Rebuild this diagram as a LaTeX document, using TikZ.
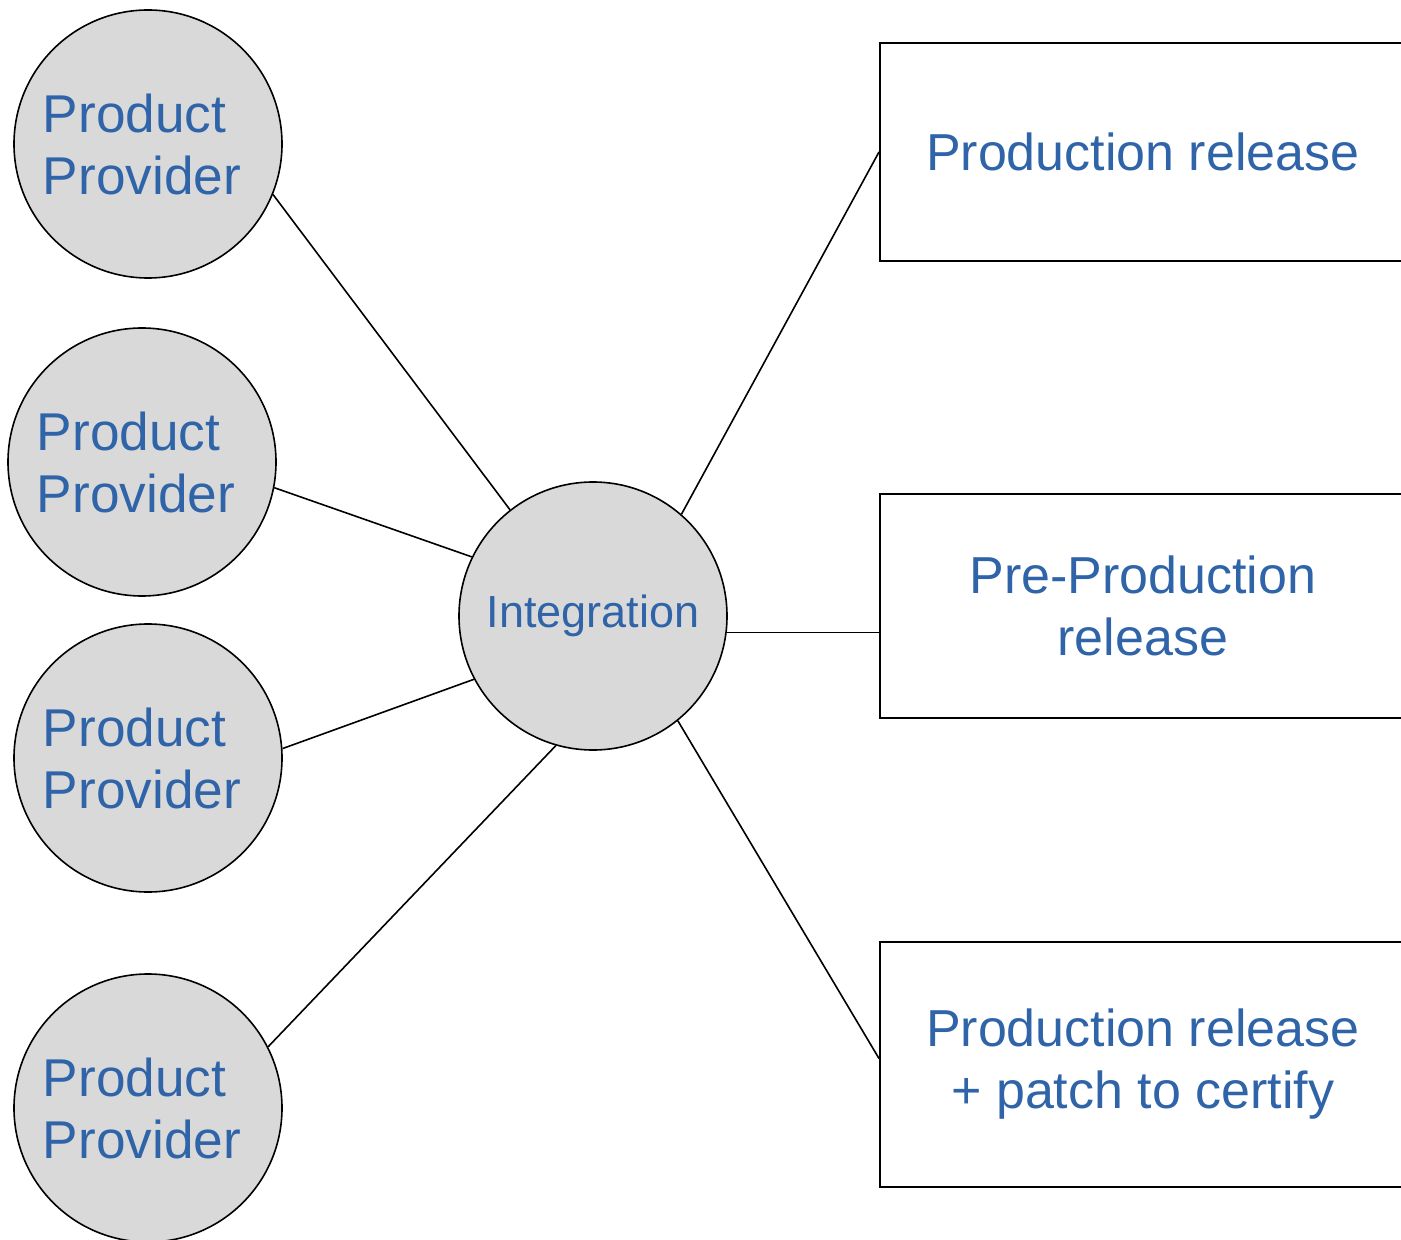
\documentclass[tikz,border=0pt]{standalone}
\usepackage{fontspec}
\setmainfont{Liberation Sans}
\definecolor{txtblue}{RGB}{48,100,168}
\definecolor{discgray}{RGB}{217,217,217}

\begin{document}
\begin{tikzpicture}[x=0.5pt, y=-0.5pt,
    provider/.style={circle, draw, line width=0.8pt, fill=discgray, minimum size=134pt,
      inner sep=0pt, align=left, text=txtblue, font=\fontsize{26.6}{31}\selectfont},
    release/.style={rectangle, draw, line width=0.8pt, minimum width=263pt, inner sep=0pt,
      anchor=west, align=center, text=txtblue, font=\fontsize{26}{31}\selectfont},
    link/.style={line width=0.8pt}]
  \useasboundingbox (0,0) rectangle (1401,1240);
  \clip (0,0) rectangle (1401,1240);
  \node[provider] (prov1) at (148,144) {Product\\Provider\kern6pt};
  \node[provider] (prov2) at (142,462) {Product\\Provider\kern6pt};
  \node[provider] (prov3) at (148,758) {Product\\Provider\kern6pt};
  \node[provider] (prov4) at (148,1108) {Product\\Provider\kern6pt};
  \node[provider, font=\fontsize{22.5}{27}\selectfont] (integ) at (593,616) {Integration};
  \node[release, minimum height=109pt] (rel1) at (879,152) {Production release};
  \node[release, minimum height=112pt] (rel2) at (879,606) {Pre-Production\\release};
  \node[release, minimum height=122.5pt] (rel3) at (879,1064.5) {Production release\\+ patch to certify};
  \draw[link] (prov1.-22) -- (integ.128);
  \draw[link] (prov2.-11) -- (integ.154);
  \draw[link] (prov3.4) -- (integ.-152);
  \draw[link] (prov4.27) -- (integ.-106);
  \draw[link] (integ.49) -- (rel1.west);
  \draw[link] (integ.-7) -- (integ.-7 -| rel2.west);
  \draw[link] (integ.-51) -- ([yshift=3pt]rel3.west);
\end{tikzpicture}
\end{document}
